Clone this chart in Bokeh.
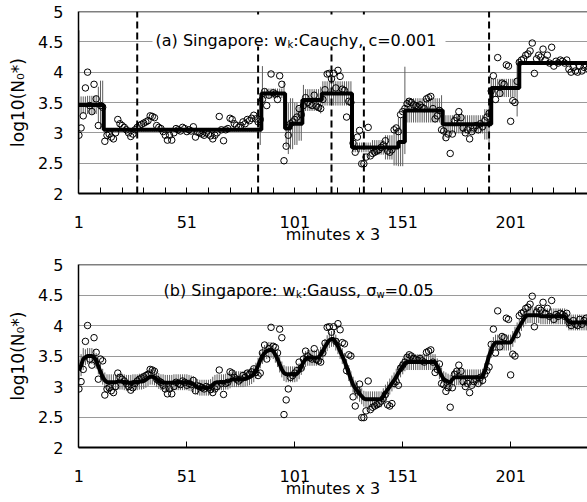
from bokeh.plotting import figure
from bokeh.models import Range1d, FixedTicker, Span, Label, BoxAnnotation
from bokeh.layouts import column
from bokeh.embed import file_html
from bokeh.resources import INLINE

# ---------------- data ----------------
obs = [
    2.96, 3.08, 3.28, 3.74, 4.00, 3.45, 3.35, 3.80, 3.56, 3.12,
    3.45, 3.42, 2.86, 2.96, 2.98, 2.93, 2.90, 3.00, 3.22, 3.15,
    3.12, 3.09, 3.05, 3.00, 2.94, 2.98, 3.05, 3.09, 3.12, 3.14,
    3.16, 3.18, 3.20, 3.28, 3.27, 3.25, 3.12, 3.09, 3.07, 3.02,
    2.96, 2.88, 2.96, 2.88, 3.00, 3.07, 3.05, 3.03, 3.09, 3.07,
    3.02, 3.05, 3.03, 3.10, 2.93, 3.01, 3.00, 2.98, 2.96, 3.00,
    2.98, 2.95, 2.90, 2.96, 3.00, 3.27, 3.05, 2.87, 3.05, 3.07,
    3.24, 3.22, 3.15, 3.12, 3.09, 3.12, 3.18, 3.15, 3.22, 3.20,
    3.24, 3.29, 3.23, 3.18, 3.22, 3.55, 3.68, 3.45, 3.62, 3.97,
    3.66, 3.64, 3.55, 3.94, 3.80, 2.54, 2.78, 2.96, 3.15, 3.18,
    3.22, 3.26, 3.40, 3.30, 3.45, 3.58, 3.50, 3.47, 3.45, 3.62,
    3.44, 3.42, 3.40, 3.55, 3.71, 3.97, 3.98, 3.89, 3.98, 3.74,
    4.03, 3.93, 3.72, 3.70, 3.26, 3.52, 3.50, 2.83, 2.68, 2.93,
    3.04, 2.49, 2.49, 2.60, 3.09, 2.62, 2.66, 2.68, 2.70, 2.72,
    2.76, 2.80, 2.87, 2.70, 2.68, 2.72, 3.05, 3.08, 3.02, 3.30,
    3.35, 3.40, 3.48, 3.52, 3.50, 3.46, 3.45, 3.43, 3.46, 3.42,
    3.40, 3.56, 3.58, 3.60, 3.40, 3.23, 3.28, 3.37, 3.05, 3.03,
    2.92, 2.98, 2.66, 2.98, 3.20, 3.25, 3.35, 3.25, 3.08, 3.00,
    3.05, 2.90, 3.02, 3.08, 3.12, 3.05, 3.15, 3.10, 3.20, 3.26,
    3.32, 3.69, 3.94, 3.55, 4.24, 3.65, 3.82, 3.80, 4.12, 4.10,
    3.19, 3.53, 3.50, 3.85, 4.16, 4.20, 4.22, 4.28, 4.30, 4.35,
    4.48, 3.98, 4.22, 4.28, 4.25, 4.38, 4.20, 4.28, 4.15, 4.41,
    4.10, 4.18, 4.15, 4.20, 4.18, 4.15, 4.20, 4.05, 4.00, 4.08,
    4.02, 4.00, 4.10, 4.02, 4.08, 4.12, 4.05,
]

# (a) Cauchy: piecewise-constant estimate (segment starts / levels)
a_seg_start = [1, 12.5, 85.5, 96.5, 99, 104.5, 113.5, 127.5, 149, 152, 169.5, 192, 205]
a_seg_level = [3.46, 3.05, 3.65, 3.07, 3.15, 3.54, 3.65, 2.76, 2.85, 3.37, 3.14, 3.74, 4.15]
a_seg_last = 237
# (a) error-bar half widths as runs: (first index, last index, half width)
a_err_runs = [
    (1, 1, 1.23), (2, 4, 0.14), (5, 9, 0.15), (10, 10, 0.30), (11, 12, 0.40),
    (13, 84, 0.03), (85, 85, 0.25), (86, 86, 0.45), (87, 95, 0.08), (96, 96, 0.20),
    (97, 97, 0.30), (98, 100, 0.42), (101, 102, 0.35), (103, 104, 0.28), (105, 105, 0.25),
    (106, 112, 0.18), (113, 113, 0.22), (114, 127, 0.20), (128, 136, 0.08), (137, 142, 0.12),
    (143, 146, 0.20), (147, 148, 0.30), (149, 151, 0.40), (152, 152, 0.72), (153, 168, 0.20),
    (169, 170, 0.25), (171, 188, 0.15), (189, 190, 0.25), (191, 191, 0.32), (192, 203, 0.15),
    (204, 204, 0.47), (205, 237, 0.03),
]
a_change_points = [28, 84, 118, 133, 191]

# (b) Gauss: smooth estimate
b_est = [
    3.26, 3.35, 3.45, 3.48, 3.50, 3.50, 3.50, 3.48, 3.42, 3.33,
    3.24, 3.16, 3.10, 3.07, 3.07, 3.07, 3.07, 3.07, 3.08, 3.08,
    3.08, 3.07, 3.06, 3.06, 3.06, 3.07, 3.07, 3.07, 3.08, 3.08,
    3.09, 3.11, 3.14, 3.16, 3.16, 3.15, 3.12, 3.09, 3.07, 3.07,
    3.06, 3.06, 3.06, 3.06, 3.07, 3.07, 3.07, 3.07, 3.07, 3.07,
    3.07, 3.06, 3.05, 3.04, 3.01, 2.99, 2.98, 2.98, 2.98, 2.98,
    2.98, 2.99, 3.03, 3.06, 3.07, 3.07, 3.07, 3.07, 3.08, 3.08,
    3.10, 3.12, 3.12, 3.12, 3.12, 3.12, 3.12, 3.13, 3.14, 3.15,
    3.17, 3.20, 3.26, 3.34, 3.43, 3.50, 3.55, 3.58, 3.60, 3.60,
    3.58, 3.52, 3.45, 3.36, 3.28, 3.22, 3.20, 3.20, 3.20, 3.20,
    3.20, 3.21, 3.25, 3.32, 3.40, 3.45, 3.47, 3.47, 3.47, 3.47,
    3.47, 3.48, 3.52, 3.58, 3.65, 3.71, 3.76, 3.78, 3.78, 3.72,
    3.66, 3.58, 3.50, 3.42, 3.32, 3.22, 3.12, 3.03, 2.97, 2.93,
    2.88, 2.84, 2.80, 2.79, 2.79, 2.79, 2.79, 2.79, 2.79, 2.79,
    2.79, 2.84, 2.90, 2.95, 3.00, 3.05, 3.10, 3.16, 3.22, 3.28,
    3.33, 3.38, 3.40, 3.40, 3.40, 3.40, 3.40, 3.40, 3.40, 3.40,
    3.40, 3.40, 3.40, 3.40, 3.40, 3.40, 3.33, 3.25, 3.18, 3.12,
    3.10, 3.08, 3.06, 3.12, 3.15, 3.15, 3.15, 3.15, 3.15, 3.15,
    3.15, 3.15, 3.15, 3.15, 3.15, 3.15, 3.15, 3.16, 3.25, 3.38,
    3.50, 3.60, 3.68, 3.72, 3.72, 3.72, 3.72, 3.72, 3.72, 3.72,
    3.72, 3.78, 3.85, 3.92, 3.98, 4.04, 4.10, 4.15, 4.17, 4.17,
    4.17, 4.17, 4.17, 4.17, 4.15, 4.15, 4.15, 4.15, 4.15, 4.15,
    4.15, 4.15, 4.15, 4.15, 4.15, 4.15, 4.10, 4.05, 4.05, 4.05,
    4.05, 4.05, 4.05, 4.05, 4.05, 4.05, 4.05,
]
b_err_runs = [(1, 3, 0.18), (4, 237, 0.13)]

x_ticks = [1, 51, 101, 151, 201]
x_minor = [11, 21, 31, 41, 61, 71, 81, 91, 111, 121, 131, 141, 161, 171, 181, 191, 211, 221, 231]
y_ticks = [2, 2.5, 3, 3.5, 4, 4.5, 5]
y_tick_labels = ["2", "2.5", "3", "3.5", "4", "4.5", "5"]
x_title = "minutes x 3"
y_title = "log10(N\u2080*)"

# ---------------- derived series ----------------
idx = list(range(1, len(obs) + 1))

def expand_runs(runs, n):
    out = [0.0] * n
    for a, b, w in runs:
        for i in range(a, b + 1):
            out[i - 1] = w
    return out

a_est = []
for i in idx:
    lev = a_seg_level[0]
    for s, l in zip(a_seg_start, a_seg_level):
        if i >= s:
            lev = l
    a_est.append(lev)
step_x, step_y = [], []
ends = a_seg_start[1:] + [a_seg_last]
for s, e, l in zip(a_seg_start, ends, a_seg_level):
    step_x += [s, e]
    step_y += [l, l]

a_err = expand_runs(a_err_runs, len(idx))
b_err = expand_runs(b_err_runs, len(idx))

# ---------------- layout helpers ----------------
FONT = "DejaVu Sans"
X0, X1 = 0.8, 236.6
FL, FW = 78, 509   # frame left (page px) and frame width
BAR_COLOR = "#5e5e5e"

def px2x(px):
    return X0 + (px - FL) * (X1 - X0) / FW

def make_fig(top, frame_h, bottom, minor):
    p = figure(frame_width=FW, frame_height=frame_h,
               x_range=Range1d(X0, X1), y_range=Range1d(2, 5),
               output_backend="svg", toolbar_location=None,
               min_border_left=FL, min_border_right=0,
               min_border_top=top, min_border_bottom=bottom)
    p.outline_line_color = None
    p.background_fill_color = "white"
    p.border_fill_color = "white"
    p.xgrid.visible = False
    p.ygrid.ticker = FixedTicker(ticks=[2.5, 3, 3.5, 4, 4.5])
    p.ygrid.grid_line_color = "#9a9a9a"
    p.ygrid.grid_line_width = 1

    xa = p.xaxis[0]
    xa.ticker = FixedTicker(ticks=x_ticks, minor_ticks=x_minor if minor else [])
    xa.major_tick_in = 6
    xa.major_tick_out = 0
    xa.minor_tick_in = 6 if minor else 0
    xa.minor_tick_out = 0
    xa.minor_tick_line_color = "black" if minor else None
    xa.axis_line_width = 2
    xa.major_label_standoff = 22
    xa.major_label_text_font = FONT
    xa.major_label_text_font_size = "16px"
    xa.major_label_text_color = "black"
    xa.axis_label = x_title
    xa.axis_label_text_font = FONT
    xa.axis_label_text_font_size = "16px"
    xa.axis_label_text_font_style = "normal"
    xa.axis_label_text_color = "black"
    xa.axis_label_standoff = -6

    ya = p.yaxis[0]
    ya.ticker = FixedTicker(ticks=y_ticks)
    ya.major_label_overrides = {t: s for t, s in zip(y_ticks, y_tick_labels)}
    ya.major_tick_in = 0
    ya.major_tick_out = 0
    ya.minor_tick_line_color = None
    ya.axis_line_width = 1.5
    ya.major_label_standoff = 15
    ya.major_label_text_font = FONT
    ya.major_label_text_font_size = "16px"
    ya.major_label_text_color = "black"
    ya.axis_label = y_title
    ya.axis_label_text_font = FONT
    ya.axis_label_text_font_size = "17px"
    ya.axis_label_text_font_style = "normal"
    ya.axis_label_text_color = "black"
    ya.axis_label_standoff = 7

    p.add_layout(Span(location=5, dimension="width", line_color="black", line_width=1.5))
    return p

def title_pieces(p, vconv, pieces):
    for txt, px, py, size in pieces:
        p.add_layout(Label(x=px2x(px), y=vconv(py), text=txt, text_font=FONT,
                           text_font_size=size, text_color="black",
                           text_align="left", text_baseline="alphabetic"))

# ---------------- panel (a) ----------------
va = lambda py: 2 + (193 - py) * 3 / 182
pa = make_fig(11, 182, 57, True)
pa.segment(x0=idx, y0=[m - e for m, e in zip(a_est, a_err)], x1=idx,
           y1=[m + e for m, e in zip(a_est, a_err)], line_color=BAR_COLOR, line_width=1)
pa.segment(x0=a_change_points, y0=[2] * len(a_change_points), x1=a_change_points,
           y1=[5] * len(a_change_points), line_color="black", line_width=2, line_dash="7 4")
pa.scatter(idx, obs, marker="circle", size=6.5, fill_color=None, line_color="black", line_width=1)
pa.line(step_x, step_y, line_color="black", line_width=4)
pa.add_layout(BoxAnnotation(left=px2x(152), right=px2x(445), bottom=va(46), top=va(14),
                            fill_color="white", fill_alpha=1, line_color=None))
title_pieces(pa, va, [("(a) Singapore: w", 155, 40, "16px"), ("k", 287, 44, "10px"),
                      (":Cauchy, c=0.001", 292.8, 40, "16px")])

# ---------------- panel (b) ----------------
vb = lambda py: 2 + (197 - py) * 3 / 183
pb = make_fig(14, 183, 55, False)
pb.segment(x0=idx, y0=[m - e for m, e in zip(b_est, b_err)], x1=idx,
           y1=[m + e for m, e in zip(b_est, b_err)], line_color=BAR_COLOR, line_width=1)
pb.scatter(idx, obs, marker="circle", size=6.5, fill_color=None, line_color="black", line_width=1)
pb.line(idx, b_est, line_color="black", line_width=4)
title_pieces(pb, vb, [("(b) Singapore: w", 163, 40, "16px"), ("k", 295.4, 44, "10px"),
                      (":Gauss, \u03c3", 301.2, 40, "16px"), ("w", 375.9, 44, "10px"),
                      ("=0.05", 384.1, 40, "16px")])

layout = column(pa, pb, spacing=0)
open("out.html", "w").write(file_html(layout, INLINE))
